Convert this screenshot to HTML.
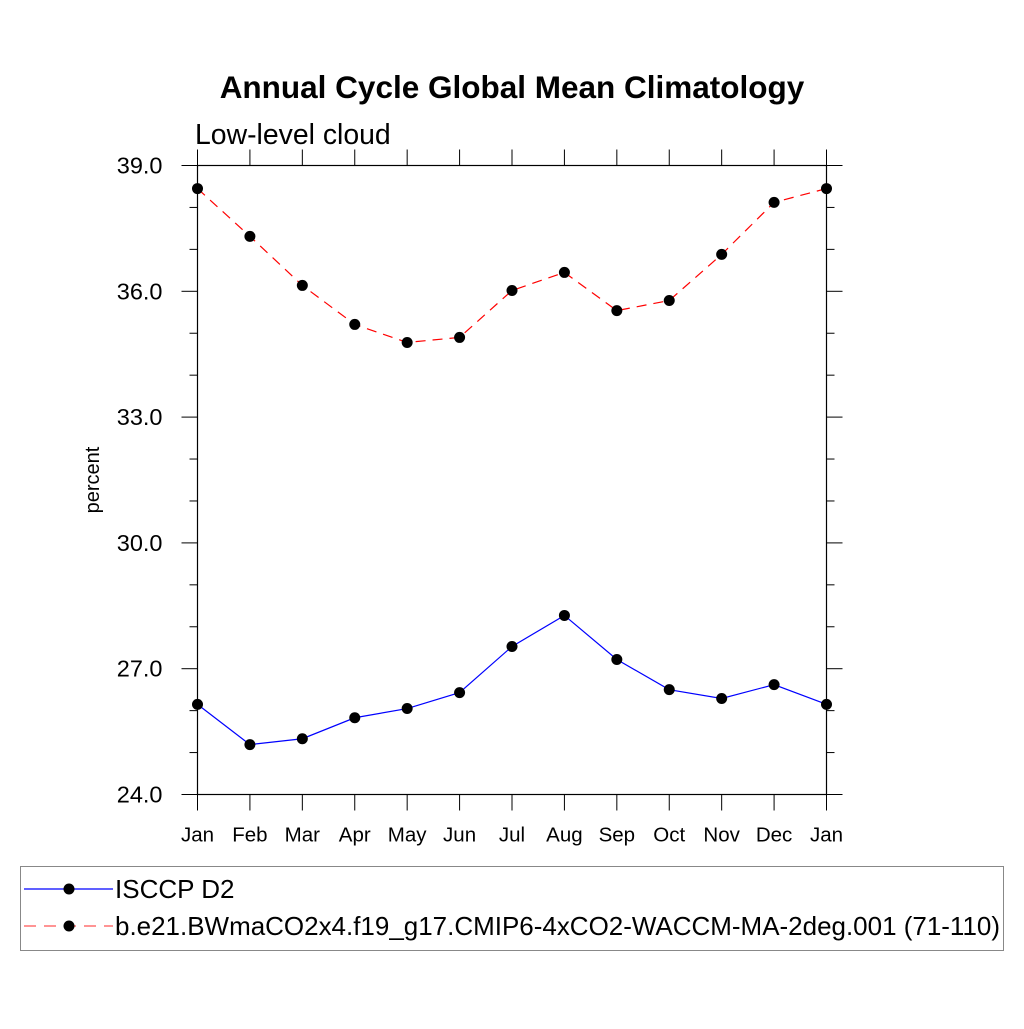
<!DOCTYPE html>
<html><head><meta charset="utf-8"><style>
body{margin:0;background:#fff;}
svg text{font-family:"Liberation Sans",sans-serif;}
</style></head><body>
<svg id="chart" width="1024" height="1024" xmlns="http://www.w3.org/2000/svg">
<text x="512" y="98" text-anchor="middle" font-size="31.5" font-weight="bold">Annual Cycle Global Mean Climatology</text>
<text x="195" y="144" font-size="28.4">Low-level cloud</text>
<text transform="translate(99,480) rotate(-90)" text-anchor="middle" font-size="20">percent</text>
<g id="axes"></g>
<g id="series"></g>
<rect x="20.5" y="866.5" width="983" height="84" fill="none" stroke="#888" stroke-width="1"/>
<g>
<line x1="24" y1="889" x2="113" y2="889" stroke="#00f" stroke-width="1.2"/>
<circle cx="69" cy="889" r="5.5" fill="#000"/>
<text x="115" y="898" font-size="26">ISCCP D2</text>
</g>
<g>
<line x1="24" y1="926" x2="113" y2="926" stroke="#f55" stroke-width="1.2" stroke-dasharray="12,8"/>
<circle cx="69" cy="926" r="5.5" fill="#000"/>
<text x="115" y="935" font-size="26" textLength="885" lengthAdjust="spacingAndGlyphs">b.e21.BWmaCO2x4.f19_g17.CMIP6-4xCO2-WACCM-MA-2deg.001 (71-110)</text>
</g>
</svg>
<script>
const months=["Jan","Feb","Mar","Apr","May","Jun","Jul","Aug","Sep","Oct","Nov","Dec","Jan"];
const isccp=[26.15,25.19,25.33,25.83,26.05,26.43,27.53,28.27,27.22,26.50,26.29,26.62,26.15];
const model=[38.45,37.31,36.14,35.21,34.78,34.90,36.02,36.45,35.54,35.78,36.88,38.12,38.45];
const yTicks=[24,27,30,33,36,39];
const yTickLabels=["24.0","27.0","30.0","33.0","36.0","39.0"];
const X0=197.5,X1=826.5,Y0=794.5,Y1=165.5,YMIN=24,YMAX=39;
const NS="http://www.w3.org/2000/svg";
function xs(i){return X0+(X1-X0)*i/(months.length-1);}
function ys(v){return Y0-(v-YMIN)/(YMAX-YMIN)*(Y0-Y1);}
function mk(t,a,p){const e=document.createElementNS(NS,t);for(const k in a)e.setAttribute(k,a[k]);p.appendChild(e);return e;}
const ax=document.getElementById('axes');
const fr=mk('rect',{x:X0,y:Y1,width:X1-X0,height:Y0-Y1,fill:'none',stroke:'#000','stroke-width':1.2},ax);


months.forEach((m,i)=>{
  const x=xs(i);
  mk('line',{x1:x,y1:Y0,x2:x,y2:Y0+16,stroke:'#000'},ax);
  mk('line',{x1:x,y1:Y1,x2:x,y2:Y1-16,stroke:'#000'},ax);
  const t=mk('text',{x:x,y:Y0+47,'text-anchor':'middle','font-size':20.5},ax);
  t.textContent=m;
  
  
});
for(let v=YMIN;v<=YMAX;v+=1){
  const y=ys(v);const major=(v-YMIN)%3===0;const L=major?16:8;
  mk('line',{x1:X0-L,y1:y,x2:X0,y2:y,stroke:'#000'},ax);
  mk('line',{x1:X1,y1:y,x2:X1+L,y2:y,stroke:'#000'},ax);
}
yTicks.forEach((v,i)=>{
  const t=mk('text',{x:X0-35,y:ys(v)+8,'text-anchor':'end','font-size':23.5},ax);
  t.textContent=yTickLabels[i];
  
  
});
const sg=document.getElementById('series');
function draw(vals,color,dash,name){
  const pl=mk('polyline',{points:vals.map((v,i)=>xs(i)+','+ys(v)).join(' '),fill:'none',stroke:color,'stroke-width':1.2,'stroke-dasharray':dash},sg);
  
  
  vals.forEach((v,i)=>{
    const c=mk('circle',{cx:xs(i),cy:ys(v),r:5.5,fill:'#000'},sg);
    
    
  });
}
draw(isccp,'#00f','none','isccp');
draw(model,'#f00','10,7','model');
</script>
</body></html>
